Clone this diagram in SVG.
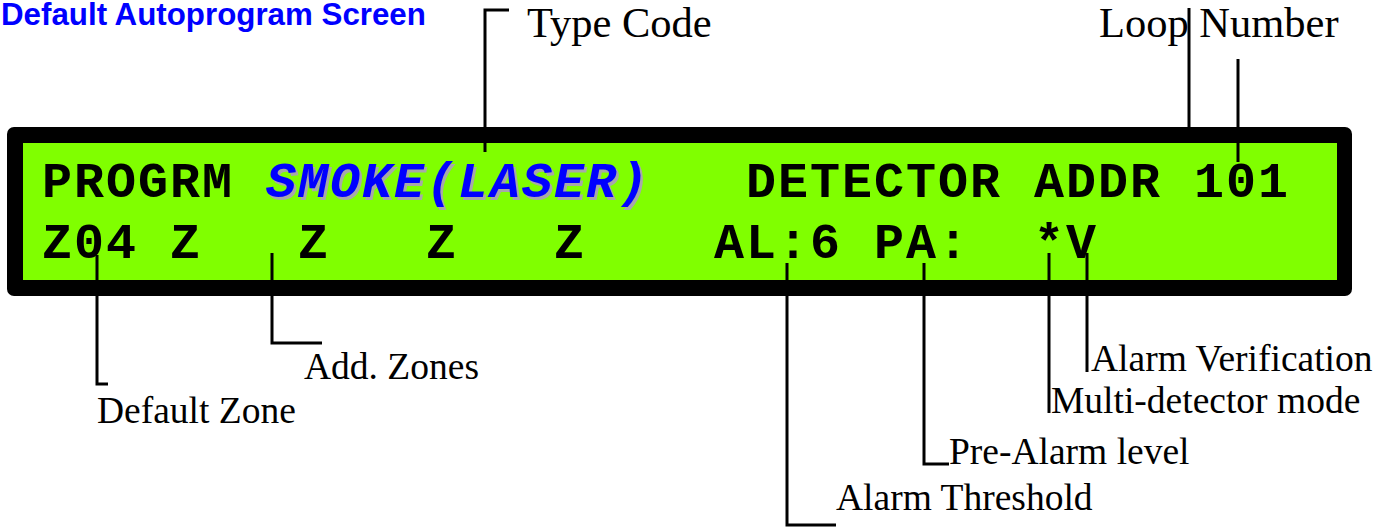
<svg xmlns="http://www.w3.org/2000/svg" width="1397" height="527" viewBox="0 0 1397 527">
  <style>
    .lbl { font-family: "Liberation Serif", "Times New Roman", serif; fill: #000; }
    .top { font-size: 42.5px; }
    .bot { font-size: 37.5px; }
    .lcd { font-family: "Courier New", "Liberation Mono", monospace; font-weight: bold; font-size: 50px; letter-spacing: 2px; fill: #000; }
    .smoke { font-style: italic; fill: #0000FF; }
    .shadow { font-style: italic; fill: #A8A8A8; }
    .conn { fill: none; stroke: #000; stroke-width: 3; }
  </style>
  <rect width="1397" height="527" fill="#FFFFFF"/>

  <g id="title">
    <text x="1" y="25" font-family="'Liberation Sans', Arial, sans-serif" font-weight="bold" font-size="31.3" fill="#0000FF">Default Autoprogram Screen</text>
  </g>

  <g id="panel">
    <rect x="7" y="127" width="1345" height="169" rx="7" fill="#000"/>
    <rect x="23" y="143" width="1314" height="137" fill="#80FF00"/>
    <text class="lcd" y="197">
      <tspan x="42">PROGRM</tspan>
      <tspan x="746">DETECTOR</tspan>
      <tspan x="1034">ADDR</tspan>
      <tspan x="1194">101</tspan>
    </text>
    <text class="lcd shadow" x="268.5" y="199.5">SMOKE(LASER)</text>
    <text class="lcd smoke" x="266" y="197">SMOKE(LASER)</text>
    <text class="lcd" y="258">
      <tspan x="42">Z04</tspan>
      <tspan x="170">Z</tspan>
      <tspan x="298">Z</tspan>
      <tspan x="426">Z</tspan>
      <tspan x="554">Z</tspan>
      <tspan x="714">AL:6</tspan>
      <tspan x="874">PA:</tspan>
      <tspan x="1034">*V</tspan>
    </text>
  </g>

  <g id="connectors">
    <polyline class="conn" points="485,152 485,10 509,10"/>
    <line class="conn" x1="1189" y1="8" x2="1189" y2="128"/>
    <line class="conn" x1="1238" y1="59" x2="1238" y2="162"/>
    <polyline class="conn" points="97,255 97,384 108,384"/>
    <polyline class="conn" points="272,253 272,343 322,343"/>
    <polyline class="conn" points="787,263 787,525 836,525"/>
    <polyline class="conn" points="924,263 924,464 949,464"/>
    <polyline class="conn" points="1049,253 1049,413"/>
    <polyline class="conn" points="1087,253 1087,372"/>
  </g>

  <g id="label-type-code"><text class="lbl top" x="527" y="37">Type Code</text></g>
  <g id="label-loop-number"><text class="lbl top" x="1099" y="37">Loop Number</text></g>
  <g id="label-default-zone"><text class="lbl bot" x="97" y="423">Default Zone</text></g>
  <g id="label-add-zones"><text class="lbl bot" x="304" y="379">Add. Zones</text></g>
  <g id="label-alarm-threshold"><text class="lbl bot" x="836" y="510">Alarm Threshold</text></g>
  <g id="label-pre-alarm"><text class="lbl bot" x="949" y="464">Pre-Alarm level</text></g>
  <g id="label-multi-detector"><text class="lbl bot" x="1051" y="413">Multi-detector mode</text></g>
  <g id="label-alarm-verification"><text class="lbl bot" x="1091" y="371">Alarm Verification</text></g>
</svg>
